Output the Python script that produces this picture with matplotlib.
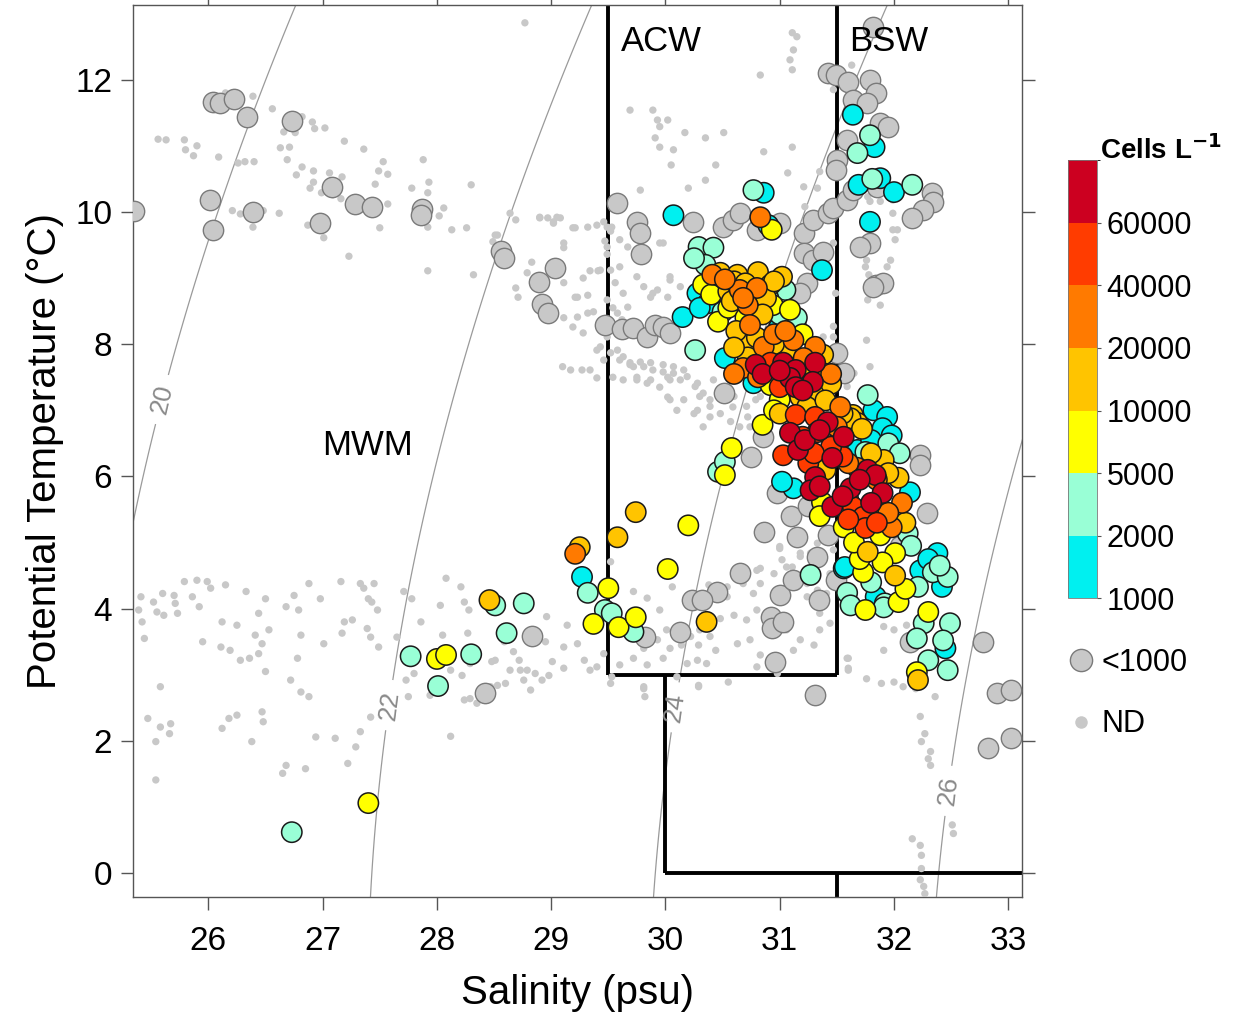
import numpy as np
import matplotlib
matplotlib.use("Agg")
import matplotlib.pyplot as plt
from matplotlib.colors import ListedColormap, BoundaryNorm
from matplotlib.cm import ScalarMappable
from matplotlib.lines import Line2D

plt.rcParams['font.family'] = ['Liberation Sans', 'DejaVu Sans']

# ---- data: (salinity, potential temperature) ----
# ND: no data (small grey dots)
nd_pts = [
    # upper left band
    (25.56, 11.10), (25.63, 11.09), (25.79, 11.09), (25.80, 10.94), (25.90, 11.00), (25.87, 10.85),
    (26.09, 10.83), (26.15, 11.80), (26.39, 11.75), (26.56, 11.56), (26.26, 10.74), (26.32, 10.76),
    (26.40, 10.76), (26.21, 10.02), (26.28, 9.97), (26.48, 10.02), (26.39, 9.77), (26.62, 9.98),
    (26.63, 10.97), (26.71, 10.98), (26.66, 11.21), (26.76, 11.20), (26.82, 11.44), (26.91, 11.36),
    (26.93, 11.26), (27.02, 11.27), (26.69, 10.79), (26.82, 10.68), (26.92, 10.62), (26.77, 10.56),
    (27.06, 10.59), (27.17, 10.53), (26.92, 10.45), (26.89, 10.36), (26.99, 10.29), (27.09, 10.26),
    (27.16, 10.20), (27.19, 11.07), (27.36, 10.95), (27.53, 10.76), (27.49, 10.62), (27.57, 10.57),
    (27.46, 10.42), (27.57, 10.12), (27.50, 9.76), (27.23, 9.33), (27.01, 9.61), (26.87, 9.80),
    (27.88, 10.79), (27.93, 10.45), (27.92, 10.29), (27.78, 10.36), (28.06, 10.06), (28.02, 9.94),
    (27.92, 9.77), (28.13, 9.73), (28.26, 9.76), (27.92, 9.11), (28.32, 9.05), (28.30, 10.41),
    (28.77, 12.86), (28.64, 9.98), (28.69, 9.88), (28.90, 9.91), (29.02, 9.85), (29.08, 9.91),
    (29.19, 9.76), (29.32, 9.77), (29.40, 9.80), (28.53, 9.65), (29.11, 9.53), (29.11, 9.46),
    (28.83, 9.24), (28.79, 9.08), (28.69, 8.85), (28.71, 8.71), (29.11, 8.93), (29.28, 9.00),
    (29.34, 9.11), (29.41, 9.11), (29.23, 8.71), (29.32, 8.74), (29.11, 8.40), (29.23, 8.41),
    (29.32, 8.47), (29.19, 8.26), (29.28, 8.17), (29.40, 7.91), (29.10, 7.66), (29.17, 7.61),
    (29.27, 7.61), (29.34, 7.61), (29.40, 7.49), (28.51, 9.65), (28.49, 9.55), (28.90, 9.92),
    (28.97, 9.91), (29.05, 9.92), (29.02, 9.83), (29.21, 9.76), (29.46, 9.85), (29.53, 9.77),
    (29.43, 9.12), (29.52, 9.12), (29.21, 8.71), (29.37, 8.49), (29.46, 7.76), (29.43, 7.96),
    (29.49, 8.11),
    # ACW upper
    (31.11, 12.71), (31.15, 12.65), (31.12, 12.45), (31.09, 12.30), (31.11, 12.15), (30.83, 12.07),
    (29.69, 11.54), (29.89, 11.54), (29.93, 11.39), (29.95, 11.29), (30.02, 11.39), (29.91, 11.12),
    (29.95, 10.98), (30.17, 11.20), (30.35, 11.12), (30.51, 11.20), (30.07, 10.94), (30.05, 10.71),
    (30.44, 10.71), (30.86, 10.91), (31.11, 10.98), (31.07, 10.59), (30.35, 10.48), (30.20, 10.36),
    (29.78, 10.33), (31.33, 10.36), (29.49, 9.77), (29.52, 9.71), (29.47, 9.56), (29.49, 9.47),
    (29.49, 9.36), (29.60, 9.58), (29.67, 9.47), (29.95, 9.53), (29.60, 9.17), (29.56, 8.93),
    (29.63, 8.77), (29.75, 9.02), (29.81, 8.87), (29.89, 8.77), (30.02, 8.71), (30.04, 9.02),
    (30.13, 8.87), (29.49, 8.67), (29.54, 8.55), (29.67, 8.56), (29.58, 8.47), (29.62, 8.37),
    (29.58, 7.91), (29.63, 7.81), (29.69, 7.69), (29.98, 9.53), (30.04, 8.97), (29.93, 8.82),
    (29.87, 8.71),
    (29.52, 7.87), (29.60, 7.76), (29.69, 7.72), (29.78, 7.73), (29.87, 7.72), (29.98, 7.69),
    (30.07, 7.66), (30.16, 7.61), (29.54, 7.50), (29.63, 7.46), (29.75, 7.50), (29.87, 7.46),
    (30.02, 7.50), (30.13, 7.46), (30.28, 7.41), (29.72, 7.66), (29.81, 7.66), (29.89, 7.61),
    (29.98, 7.58), (30.07, 7.56), (29.75, 7.46), (29.84, 7.41), (29.95, 7.35), (30.04, 7.46),
    (30.04, 7.16), (30.10, 7.00), (30.33, 7.26), (30.39, 7.16), (30.48, 7.20), (30.16, 7.16),
    (30.02, 7.20), (30.28, 7.00), (30.39, 6.90), (30.59, 7.05), (30.72, 6.90), (30.74, 6.75),
    (30.79, 7.16), (30.89, 7.41), (31.00, 7.87), (31.07, 8.17), (31.09, 7.66), (31.34, 7.91),
    (31.47, 8.11), (31.79, 7.66), (30.19, 7.51), (30.26, 7.36), (30.30, 7.21), (30.39, 7.06),
    (30.48, 6.95), (30.57, 6.83), (30.42, 7.46), (30.60, 7.21), (30.71, 7.06), (30.25, 6.95),
    (30.33, 6.75), (30.65, 6.75), (30.83, 7.21), (31.47, 9.53), (31.41, 9.07), (31.49, 8.77),
    (31.47, 8.27), (31.38, 8.11), (31.59, 7.36), (31.65, 7.56), (31.76, 8.06),
    # BSW upper
    (31.99, 10.18), (31.99, 9.98), (31.99, 9.73), (32.01, 9.58), (31.97, 9.27), (31.94, 9.17),
    (31.91, 9.02), (31.88, 8.59), (31.77, 10.23), (31.75, 9.17), (31.77, 8.67), (31.63, 12.22),
    (31.47, 11.85), (31.88, 10.16), (31.79, 10.16), (32.03, 9.73), (31.76, 9.27), (31.78, 9.05),
    (31.70, 9.48), (31.21, 10.38), (31.22, 10.08), (31.35, 10.61), (31.65, 10.18),
    # lower band
    (25.41, 4.18), (25.39, 3.98), (25.42, 3.80), (25.44, 3.55), (25.52, 4.10), (25.60, 4.23),
    (25.55, 3.95), (25.61, 3.90), (25.70, 4.20), (25.71, 4.08), (25.73, 3.93), (25.79, 4.41),
    (25.86, 4.18), (25.90, 4.43), (25.92, 4.03), (25.95, 3.50), (25.99, 4.41), (26.02, 4.31),
    (26.11, 3.42), (26.12, 3.80), (26.15, 4.36), (26.19, 3.37), (26.25, 3.75), (26.28, 3.22),
    (26.33, 4.26), (26.36, 3.25), (26.41, 3.60), (26.44, 3.93), (26.44, 3.32), (26.47, 3.47),
    (26.50, 4.15), (26.50, 3.05), (26.53, 3.68), (26.68, 4.03), (26.72, 2.92), (26.75, 4.20),
    (26.78, 3.25), (26.79, 3.98), (26.81, 3.60), (26.81, 2.74), (26.88, 4.38), (26.88, 2.67),
    (26.98, 4.15), (27.01, 3.47), (27.16, 4.41), (27.17, 3.63), (27.19, 3.80), (27.26, 3.83),
    (27.33, 4.38), (27.36, 4.31), (27.39, 3.70), (27.40, 4.15), (27.42, 3.57), (27.43, 4.10),
    (27.45, 4.38), (27.48, 3.98), (27.49, 3.42), (27.65, 3.57), (27.71, 4.26), (27.73, 2.92),
    (27.75, 2.67), (27.78, 4.15), (27.80, 3.02), (27.86, 3.80), (27.94, 2.69), (28.03, 4.05),
    (28.05, 3.60), (28.08, 4.46), (28.12, 3.07), (28.21, 4.33), (28.22, 2.99), (28.24, 4.10),
    (28.27, 3.63), (28.28, 3.98), (28.29, 3.17), (28.48, 3.20), (28.51, 3.22), (28.59, 3.50),
    (28.64, 3.07), (28.67, 3.35), (28.72, 3.22), (28.73, 3.07), (28.76, 2.92), (28.79, 3.07),
    (28.82, 2.77), (28.86, 3.02), (28.92, 2.92), (28.95, 3.50), (28.96, 3.88), (28.98, 2.99),
    (29.01, 3.20), (29.11, 3.42), (29.11, 3.10), (29.14, 3.75), (29.23, 3.47), (29.29, 3.22),
    (29.34, 3.07), (29.40, 3.12), (29.46, 3.32), (29.52, 2.87),
    (25.47, 2.34), (25.58, 2.82), (25.54, 1.99), (25.58, 2.21), (25.67, 2.26), (25.66, 2.11),
    (25.54, 1.41), (26.12, 2.19), (26.18, 2.34), (26.25, 2.39), (26.38, 1.99), (26.47, 2.44),
    (26.48, 2.29), (26.65, 1.51), (26.68, 1.63), (26.85, 1.58), (26.94, 2.06), (27.11, 2.04),
    (27.22, 1.66), (27.29, 1.91), (27.33, 2.14), (27.42, 2.36), (28.12, 2.07), (28.24, 2.62),
    (28.29, 2.64), (28.35, 2.57), (28.41, 2.69), (28.47, 2.82), (28.53, 2.84), (28.60, 2.87),
    # ACW lower
    (29.52, 4.71), (29.72, 4.26), (29.84, 4.16), (29.95, 3.98), (30.06, 4.33), (30.01, 3.68),
    (29.93, 3.53), (29.81, 3.40), (29.72, 3.25), (29.84, 3.15), (29.60, 3.15), (29.98, 3.25),
    (30.04, 3.40), (30.14, 3.45), (30.22, 3.58), (30.29, 3.45), (30.30, 3.68), (30.39, 3.58),
    (30.44, 3.37), (30.28, 3.22), (30.36, 3.17), (30.19, 3.17), (30.10, 2.97), (30.38, 4.36),
    (30.54, 4.18), (30.60, 3.90), (30.48, 3.85), (30.63, 3.47), (30.74, 3.53), (30.71, 3.83),
    (30.80, 3.98), (30.77, 4.23), (30.83, 4.61), (30.95, 4.53), (31.02, 4.74), (31.11, 4.63),
    (31.18, 4.79), (31.27, 4.84), (31.33, 4.99), (31.00, 4.94), (30.83, 4.38), (30.92, 3.73),
    (31.06, 3.68), (31.18, 3.53), (31.12, 3.37), (31.30, 3.45), (31.35, 3.68), (31.44, 3.78),
    (31.24, 4.18), (31.15, 4.33), (31.33, 4.28), (31.35, 3.93), (30.83, 3.30), (30.80, 3.12),
    (30.98, 3.02), (30.55, 2.89), (30.29, 2.84), (29.81, 2.82), (29.53, 2.97), (31.60, 3.25),
    (31.60, 3.10), (31.00, 4.91), (31.18, 4.84), (31.06, 4.63), (30.80, 4.58), (30.68, 4.38),
    (30.54, 4.33), (30.39, 4.18), (31.24, 4.38), (31.44, 4.53), (31.47, 4.89), (31.41, 4.23),
    # below 3 degC, right side
    (29.81, 2.79), (29.82, 2.67), (30.29, 2.82), (31.76, 2.94), (31.89, 2.87), (32.00, 2.89),
    (32.08, 2.82), (32.19, 2.79), (32.36, 2.67), (32.23, 2.37), (32.27, 2.11), (32.24, 1.99),
    (32.32, 1.84), (32.30, 1.73), (32.32, 1.63), (32.51, 0.73), (32.52, 0.60), (32.16, 0.52),
    (32.23, 0.42), (32.24, 0.27), (32.24, 0.07), (32.23, -0.10), (32.26, -0.20), (32.27, -0.31),
    (31.60, 3.07), (31.59, 3.25), (31.91, 3.37), (32.00, 3.68), (31.91, 3.73), (32.11, 3.75),
]

# < 1000 cells per litre (large grey circles)
low_pts = [
    (26.04, 11.66), (26.10, 11.65), (26.22, 11.71), (26.34, 11.44), (26.73, 11.38), (26.01, 10.18),
    (26.04, 9.73), (26.39, 10.00), (27.08, 10.38), (26.98, 9.83), (27.28, 10.12), (27.43, 10.08),
    (27.87, 10.05), (27.86, 9.95), (25.35, 10.02), (28.56, 9.41), (28.59, 9.30), (29.03, 9.15),
    (28.89, 8.94), (28.92, 8.61), (28.97, 8.47), (29.47, 8.29), (29.58, 10.14), (29.75, 9.85),
    (29.78, 9.68), (29.79, 9.36), (29.62, 8.23), (29.72, 8.25), (29.84, 8.11), (29.91, 8.29),
    (29.98, 8.26), (30.04, 8.17), (30.24, 9.85), (30.50, 9.77), (30.59, 9.88), (30.65, 9.98),
    (30.80, 9.73), (31.00, 9.83), (31.21, 9.68), (31.29, 9.88), (31.42, 9.98), (31.47, 10.06),
    (31.21, 9.38), (31.29, 9.27), (31.24, 8.93), (31.18, 8.77), (31.42, 12.10), (31.49, 12.07),
    (31.60, 11.97), (31.79, 12.00), (31.82, 12.80), (31.84, 11.80), (31.64, 11.69), (31.76, 11.65),
    (31.88, 11.35), (31.95, 11.29), (31.59, 11.09), (31.50, 10.79), (31.49, 10.64), (31.59, 10.18),
    (31.64, 10.33), (31.85, 10.38), (32.33, 10.29), (32.34, 10.15), (32.25, 10.03), (32.16, 9.91),
    (31.79, 9.53), (31.84, 8.90), (31.90, 8.93), (31.50, 7.87), (31.56, 7.56), (32.23, 6.32),
    (32.23, 6.17), (32.29, 5.45), (30.86, 5.16), (31.15, 5.08), (31.42, 5.11), (31.33, 4.78),
    (30.65, 4.54), (30.45, 4.25), (30.23, 4.13), (30.32, 4.13), (31.00, 4.21), (31.12, 4.43),
    (31.34, 4.13), (30.92, 3.87), (30.93, 3.71), (31.03, 3.80), (30.13, 3.65), (29.82, 3.57),
    (30.96, 3.19), (31.31, 2.69), (32.14, 3.49), (32.78, 3.49), (32.90, 2.72), (33.02, 2.77),
    (32.82, 1.89), (33.02, 2.04), (28.83, 3.59), (28.42, 2.72), (31.38, 9.39), (31.70, 9.47),
    (31.82, 8.87), (30.51, 7.26), (30.98, 5.75), (31.49, 4.43), (30.85, 6.60), (31.10, 5.40),
    (31.25, 5.55), (30.75, 6.30), (32.05, 4.95),
]

# counted cells, one list per colour class
cells_1000 = [
    (30.07, 9.95), (30.86, 10.29), (30.90, 9.80), (31.37, 9.12), (30.15, 8.41), (30.52, 7.79),
    (30.28, 8.77), (30.37, 8.62), (30.99, 8.24), (31.64, 11.47), (31.83, 10.98), (31.69, 10.41),
    (31.88, 10.51), (32.00, 10.30), (31.79, 9.85), (30.77, 7.41), (31.82, 7.00), (31.94, 6.90),
    (31.90, 6.73), (31.68, 6.40), (31.90, 6.45), (31.12, 5.82), (32.14, 5.76), (31.56, 4.61),
    (32.38, 4.84), (32.23, 4.58), (32.42, 4.33), (31.84, 4.18), (32.45, 3.40), (29.27, 4.48),
    (31.57, 4.63), (31.02, 5.92), (31.80, 6.55), (30.30, 8.55), (31.98, 6.62), (32.30, 4.75),
    (30.45, 8.80),
]
cells_2000 = [
    (26.73, 0.62), (27.77, 3.28), (28.01, 2.83), (28.30, 3.31), (28.51, 4.05), (28.61, 3.63),
    (28.76, 4.08), (29.32, 4.24), (29.47, 3.98), (29.53, 3.93), (29.72, 3.65), (30.77, 10.33),
    (30.29, 9.47), (30.42, 9.46), (30.26, 7.91), (31.79, 11.16), (31.68, 10.89), (31.81, 10.50),
    (32.16, 10.41), (31.05, 8.82), (30.50, 8.49), (31.14, 8.29), (31.77, 7.23), (31.75, 6.37),
    (32.12, 5.14), (32.34, 4.55), (32.47, 4.48), (31.27, 4.51), (32.21, 4.33), (31.92, 4.08),
    (32.26, 3.78), (32.49, 3.78), (32.43, 3.52), (32.30, 3.22), (32.47, 3.07), (30.46, 6.07),
    (31.59, 4.24), (31.91, 4.02), (31.15, 8.40), (30.52, 6.22), (31.62, 4.05), (30.35, 9.20),
    (30.25, 9.30), (30.90, 8.70), (31.00, 8.45), (31.95, 6.50), (32.05, 6.35), (32.15, 4.95),
    (32.40, 4.65), (31.80, 4.40), (32.20, 3.55),
]
cells_5000 = [
    (27.40, 1.06), (28.00, 3.24), (28.08, 3.30), (29.37, 3.77), (30.93, 9.73), (30.33, 8.90),
    (30.94, 8.59), (31.09, 8.52), (30.46, 8.34), (30.92, 7.38), (31.00, 7.16), (30.85, 6.78),
    (31.37, 5.61), (31.56, 5.23), (31.88, 5.11), (32.01, 4.84), (31.73, 4.55), (32.04, 4.10),
    (31.75, 3.98), (32.30, 3.95), (32.20, 3.04), (30.20, 5.26), (30.02, 4.60), (29.50, 4.31),
    (29.59, 3.72), (29.74, 3.87), (30.58, 6.43), (30.52, 6.02), (30.40, 8.75), (30.55, 8.55),
    (30.70, 8.40), (31.20, 8.15), (30.95, 7.00), (31.35, 5.40), (31.70, 4.75), (31.90, 4.70),
    (31.65, 5.00), (32.10, 4.30),
]
cells_10000 = [
    (28.46, 4.13), (29.25, 4.93), (29.74, 5.46), (29.58, 5.08), (30.36, 3.80), (30.48, 9.08),
    (30.63, 9.05), (30.81, 9.09), (31.02, 9.02), (30.92, 8.90), (30.70, 8.03), (31.38, 7.84),
    (31.38, 7.56), (31.18, 7.20), (31.33, 7.26), (31.64, 6.93), (31.24, 7.05), (31.68, 6.81),
    (31.62, 6.88), (31.91, 6.25), (32.04, 5.98), (31.77, 4.86), (32.01, 4.50), (32.21, 2.92),
    (30.55, 8.80), (30.88, 8.70), (31.05, 7.90), (30.72, 7.80), (31.50, 6.50), (31.00, 6.95),
    (30.60, 8.95), (30.70, 8.92), (30.95, 8.95), (30.58, 8.65), (30.85, 8.45), (30.62, 8.20),
    (30.80, 8.10), (30.95, 8.00), (30.60, 7.95), (31.25, 7.60), (31.45, 7.40), (31.40, 7.15),
    (31.55, 6.95), (31.72, 6.72), (31.80, 6.35), (31.95, 6.05), (31.40, 6.10), (31.60, 5.65),
    (31.85, 5.45), (32.10, 5.30),
]
cells_20000 = [
    (29.21, 4.83), (30.83, 9.92), (30.41, 9.05), (30.65, 8.82), (30.80, 8.85), (30.72, 8.59),
    (30.74, 8.29), (30.86, 7.96), (31.12, 8.06), (31.31, 7.96), (30.68, 7.64), (31.21, 7.79),
    (30.81, 7.50), (31.53, 7.05), (31.68, 6.13), (32.07, 5.60), (31.98, 5.23), (30.52, 8.98),
    (30.68, 8.70), (30.95, 8.15), (31.05, 8.20), (30.60, 7.55), (31.45, 7.55), (31.50, 6.75),
    (31.85, 5.95), (31.95, 5.45), (31.60, 6.20),
]
cells_40000 = [
    (30.92, 7.72), (31.14, 6.93), (31.31, 6.90), (31.33, 6.67), (31.03, 6.32), (31.64, 5.54),
    (31.73, 5.39), (31.75, 5.22), (31.55, 6.30), (31.20, 6.60), (31.00, 7.35), (31.45, 6.45),
    (31.25, 6.20), (31.60, 5.35), (31.85, 5.30), (31.30, 6.35),
]
cells_60000 = [
    (30.79, 7.69), (31.03, 7.72), (31.14, 7.61), (31.31, 7.72), (31.09, 7.49), (31.29, 7.43),
    (31.14, 7.35), (31.42, 6.82), (31.09, 6.66), (31.56, 6.60), (31.16, 6.40), (31.46, 6.28),
    (31.77, 6.10), (31.31, 5.99), (31.27, 5.79), (31.62, 5.82), (31.84, 6.02), (31.90, 5.75),
    (31.46, 5.54), (31.22, 6.55), (30.85, 7.55), (31.20, 7.30), (31.00, 7.60), (31.35, 6.70),
    (31.70, 5.95), (31.55, 5.70), (31.80, 5.60), (31.35, 5.85),
]
class_lists = [cells_1000, cells_2000, cells_5000, cells_10000, cells_20000, cells_40000, cells_60000]
class_value = [1500, 3000, 7000, 15000, 30000, 50000, 70000]

bounds = [1000, 2000, 5000, 10000, 20000, 40000, 60000, 80000]
bound_labels = ['1000', '2000', '5000', '10000', '20000', '40000', '60000']
colors = ['#00F0F0', '#99FFD6', '#FFFF00', '#FFC400', '#FF7A00', '#FF3C00', '#CC0020']

sigma_levels = [20, 22, 24, 26]
sigma_label_pos = [(25.63, 7.15), (27.59, 2.54), (30.12, 2.50), (32.45, 1.25)]

water_masses = [('MWM', 27.39, 6.47), ('ACW', 29.96, 12.57), ('BSW', 31.95, 12.57)]
s_acw, s_bsw, t_acw, s_low, t_low = 29.5, 31.5, 3.0, 30.0, 0.0


def sigma_t(S, T):
    # UNESCO EOS-80 density at surface pressure, minus 1000
    rw = (999.842594 + 6.793952e-2 * T - 9.095290e-3 * T**2 + 1.001685e-4 * T**3
          - 1.120083e-6 * T**4 + 6.536332e-9 * T**5)
    A = 8.24493e-1 - 4.0899e-3 * T + 7.6438e-5 * T**2 - 8.2467e-7 * T**3 + 5.3875e-9 * T**4
    B = -5.72466e-3 + 1.0227e-4 * T - 1.6546e-6 * T**2
    C = 4.8314e-4
    return rw + A * S + B * S**1.5 + C * S**2 - 1000.0


fig = plt.figure(figsize=(12.46, 10.14), dpi=100)
ax = fig.add_axes([0.1067, 0.1154, 0.7135, 0.8797])
xmin, xmax, ymin, ymax = 25.34, 33.12, -0.36, 13.13

# density contours
sg, tg = np.meshgrid(np.linspace(24.5, 34, 300), np.linspace(-1, 14, 300))
cs = ax.contour(sg, tg, sigma_t(sg, tg), levels=sigma_levels, colors='#9a9a9a',
                linewidths=0.9, zorder=1)
ax.clabel(cs, fmt='%d', manual=sigma_label_pos, fontsize=19, colors='#8a8a8a',
          inline=True, inline_spacing=8)

# water mass boundaries
lk = dict(color='black', lw=2.8, zorder=2, solid_capstyle='butt')
ax.plot([s_acw, s_acw], [t_acw, 20], **lk)
ax.plot([s_acw, s_bsw], [t_acw, t_acw], **lk)
ax.plot([s_bsw, s_bsw], [t_acw, 20], **lk)
ax.plot([s_low, s_low], [t_low, t_acw], **lk)
ax.plot([s_low, 40], [t_low, t_low], **lk)
ax.plot([s_bsw, s_bsw], [-5, t_low], **lk)

msize = 215
nd = np.array(nd_pts)
ax.scatter(nd[:, 0], nd[:, 1], s=28, c='#c8c8c8', edgecolors='none', zorder=3)
lo = np.array(low_pts)
ax.scatter(lo[:, 0], lo[:, 1], s=msize, c='#c8c8c8', edgecolors='#7a7a7a',
           linewidths=1.0, zorder=4)

cmap = ListedColormap(colors)
norm = BoundaryNorm(bounds, cmap.N)
for pts, val in zip(class_lists, class_value):
    p = np.array(pts)
    ax.scatter(p[:, 0], p[:, 1], s=msize, c=[val] * len(p), cmap=cmap, norm=norm,
               edgecolors='#1a1a1a', linewidths=1.1, zorder=5)

for name, sx, ty in water_masses:
    ax.text(sx, ty, name, fontsize=25, ha='center', va='center', zorder=6)

ax.set_xlim(xmin, xmax)
ax.set_ylim(ymin, ymax)
ax.set_xticks(range(26, 34))
ax.set_yticks(range(0, 13, 2))
ax.tick_params(direction='out', length=9, width=1, color='#555555', labelsize=24,
               top=True, right=True, pad=6)
ax.tick_params(axis='x', pad=12)
for sp in ax.spines.values():
    sp.set_color('#555555')
    sp.set_linewidth(1.0)
ax.set_xlabel('Salinity (psu)', fontsize=29, labelpad=12)
ax.set_ylabel('Potential Temperature (°C)', fontsize=29, labelpad=8)

# colour bar
cax = fig.add_axes([0.857, 0.410, 0.0233, 0.432])
cb = fig.colorbar(ScalarMappable(norm=norm, cmap=cmap), cax=cax, spacing='uniform',
                  ticks=bounds[:-1])
cb.ax.set_yticklabels(bound_labels)
cb.ax.tick_params(labelsize=22, length=3, width=0.8, color='#555555', pad=4)
cb.outline.set_linewidth(0.6)
cb.outline.set_edgecolor('#777777')
fig.text(0.883, 0.852, r'Cells L$^{\mathbf{-1}}$', fontsize=20, fontweight='bold',
         ha='left', va='center')

h_low = Line2D([], [], ls='none', marker='o', markersize=16, markerfacecolor='#c8c8c8',
               markeredgecolor='#7a7a7a', markeredgewidth=1.0)
h_nd = Line2D([], [], ls='none', marker='o', markersize=9, markerfacecolor='#c8c8c8',
              markeredgecolor='none')
fig.legend(handles=[h_low, h_nd], labels=['<1000', 'ND'], loc='upper left',
           bbox_to_anchor=(0.855, 0.361), frameon=False, fontsize=22,
           handlelength=1.0, handletextpad=0.2, labelspacing=1.03, borderpad=0.0,
           borderaxespad=0.0)

fig.savefig('out.png', dpi=100)
